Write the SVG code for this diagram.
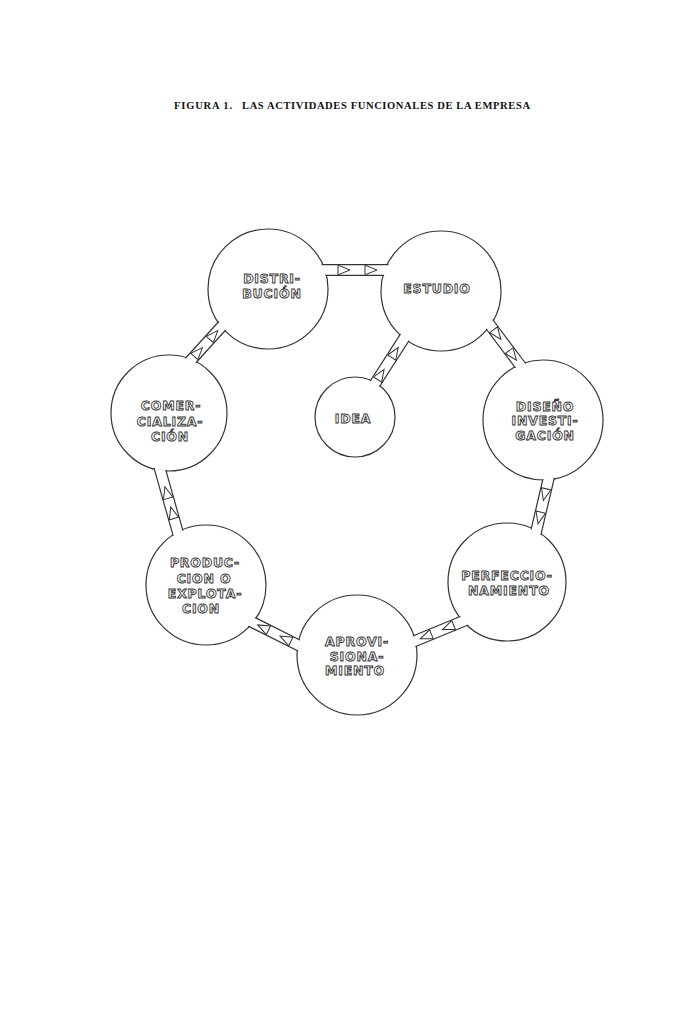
<svg xmlns="http://www.w3.org/2000/svg" width="692" height="1010" viewBox="0 0 692 1010">
<style>
.c{fill:#fff;stroke:#333;stroke-width:1.2}
.t{font-family:"DejaVu Sans",sans-serif;font-weight:bold;font-size:12.5px;fill:#fff;stroke:#333;stroke-width:0.9;text-anchor:middle;letter-spacing:0.8px}
.title{font-family:"Liberation Serif",serif;font-weight:bold;font-size:10.5px;fill:#111}
.ch-o{stroke:#333;stroke-width:12;fill:none}
.ch-i{stroke:#fff;stroke-width:9.6;fill:none}
.ar{fill:#fff;stroke:#333;stroke-width:1}
</style>
<defs>
<mask id="outside" maskUnits="userSpaceOnUse" x="0" y="0" width="692" height="1010">
<rect x="0" y="0" width="692" height="1010" fill="#fff"/>
<circle cx="268" cy="289" r="59" fill="#000"/>
<circle cx="441" cy="291" r="59" fill="#000"/>
<circle cx="355" cy="417" r="39" fill="#000"/>
<circle cx="169" cy="413" r="57" fill="#000"/>
<circle cx="543" cy="420" r="59" fill="#000"/>
<circle cx="206" cy="585" r="59" fill="#000"/>
<circle cx="507" cy="582" r="58" fill="#000"/>
<circle cx="357" cy="655" r="59" fill="#000"/>
</mask>
<polygon id="arw" points="0,0 -12,-4.8 -12,4.8"/>
</defs>
<rect width="692" height="1010" fill="#fff"/>
<text class="title" x="174" y="109" textLength="58" lengthAdjust="spacing">FIGURA 1.</text>
<text class="title" x="242" y="109" textLength="288" lengthAdjust="spacing">LAS ACTIVIDADES FUNCIONALES DE LA EMPRESA</text>

<g id="distribucion">
<circle class="c" cx="268" cy="289" r="60"/>
<text class="t" x="272" y="283">DISTRI-</text>
<text class="t" x="272" y="298">BUCIÓN</text>
</g>
<g id="estudio">
<circle class="c" cx="441" cy="291" r="60"/>
<text class="t" x="437" y="293">ESTUDIO</text>
</g>
<g id="idea">
<circle class="c" cx="355" cy="417" r="40"/>
<text class="t" x="353" y="422.5">IDEA</text>
</g>
<g id="comercializacion">
<circle class="c" cx="169" cy="413" r="58"/>
<text class="t" x="171" y="410">COMER-</text>
<text class="t" x="170" y="426">CIALIZA-</text>
<text class="t" x="170" y="441">CIÓN</text>
</g>
<g id="diseno">
<circle class="c" cx="543" cy="420" r="60"/>
<text class="t" x="545" y="411">DISEÑO</text>
<text class="t" x="545" y="425">INVESTI-</text>
<text class="t" x="545" y="440">GACIÓN</text>
</g>
<g id="perfeccionamiento">
<circle class="c" cx="507" cy="582" r="59"/>
<text class="t" x="507" y="580">PERFECCIO-</text>
<text class="t" x="509" y="595">NAMIENTO</text>
</g>
<g id="aprovisionamiento">
<circle class="c" cx="357" cy="655" r="60"/>
<text class="t" x="357" y="646">APROVI-</text>
<text class="t" x="357" y="661">SIONA-</text>
<text class="t" x="355" y="675">MIENTO</text>
</g>
<g id="produccion">
<circle class="c" cx="206" cy="585" r="60"/>
<text class="t" x="205" y="567">PRODUC-</text>
<text class="t" x="204" y="582.5">CION O</text>
<text class="t" x="205" y="598">EXPLOTA-</text>
<text class="t" x="201" y="613">CION</text>
</g>

<g id="connectors">
<g mask="url(#outside)">
<line class="ch-o" x1="310" y1="270" x2="400" y2="270"/>
<line class="ch-i" x1="310" y1="270" x2="400" y2="270"/>
<line class="ch-o" x1="186.3" y1="365.4" x2="228.7" y2="318.6"/>
<line class="ch-i" x1="186.3" y1="365.4" x2="228.7" y2="318.6"/>
<line class="ch-o" x1="484" y1="317" x2="526" y2="373"/>
<line class="ch-i" x1="484" y1="317" x2="526" y2="373"/>
<line class="ch-o" x1="550.3" y1="471.3" x2="534.7" y2="537.7"/>
<line class="ch-i" x1="550.3" y1="471.3" x2="534.7" y2="537.7"/>
<line class="ch-o" x1="470.2" y1="618.2" x2="405.8" y2="644.8"/>
<line class="ch-i" x1="470.2" y1="618.2" x2="405.8" y2="644.8"/>
<line class="ch-o" x1="307" y1="649.5" x2="243" y2="617.5"/>
<line class="ch-i" x1="307" y1="649.5" x2="243" y2="617.5"/>
<line class="ch-o" x1="180.7" y1="542.6" x2="158.3" y2="463.4"/>
<line class="ch-i" x1="180.7" y1="542.6" x2="158.3" y2="463.4"/>
<line class="ch-o" x1="370.6" y1="390.4" x2="410.4" y2="328.6"/>
<line class="ch-i" x1="370.6" y1="390.4" x2="410.4" y2="328.6"/>
</g>
<use href="#arw" class="ar" transform="translate(350,270)"/>
<use href="#arw" class="ar" transform="translate(377,270)"/>
<use href="#arw" class="ar" transform="translate(202.4,347.6) rotate(-47.8)"/>
<use href="#arw" class="ar" transform="translate(217.8,330.6) rotate(-47.8)"/>
<use href="#arw" class="ar" transform="translate(500.8,339.4) rotate(53.1)"/>
<use href="#arw" class="ar" transform="translate(516.4,360.2) rotate(53.1)"/>
<use href="#arw" class="ar" transform="translate(543.4,500.5) rotate(103.2)"/>
<use href="#arw" class="ar" transform="translate(538,523.8) rotate(103.2)"/>
<use href="#arw" class="ar" transform="translate(442.5,629.6) rotate(157.6)"/>
<use href="#arw" class="ar" transform="translate(420.3,638.8) rotate(157.6)"/>
<use href="#arw" class="ar" transform="translate(280.1,636.1) rotate(206.6)"/>
<use href="#arw" class="ar" transform="translate(257.7,624.9) rotate(206.6)"/>
<use href="#arw" class="ar" transform="translate(170.7,507) rotate(-105.8)"/>
<use href="#arw" class="ar" transform="translate(164.9,486.8) rotate(-105.8)"/>
<use href="#arw" class="ar" transform="translate(384.1,369.4) rotate(-57.2)"/>
<use href="#arw" class="ar" transform="translate(398.2,347.5) rotate(-57.2)"/>
</g>
</svg>
